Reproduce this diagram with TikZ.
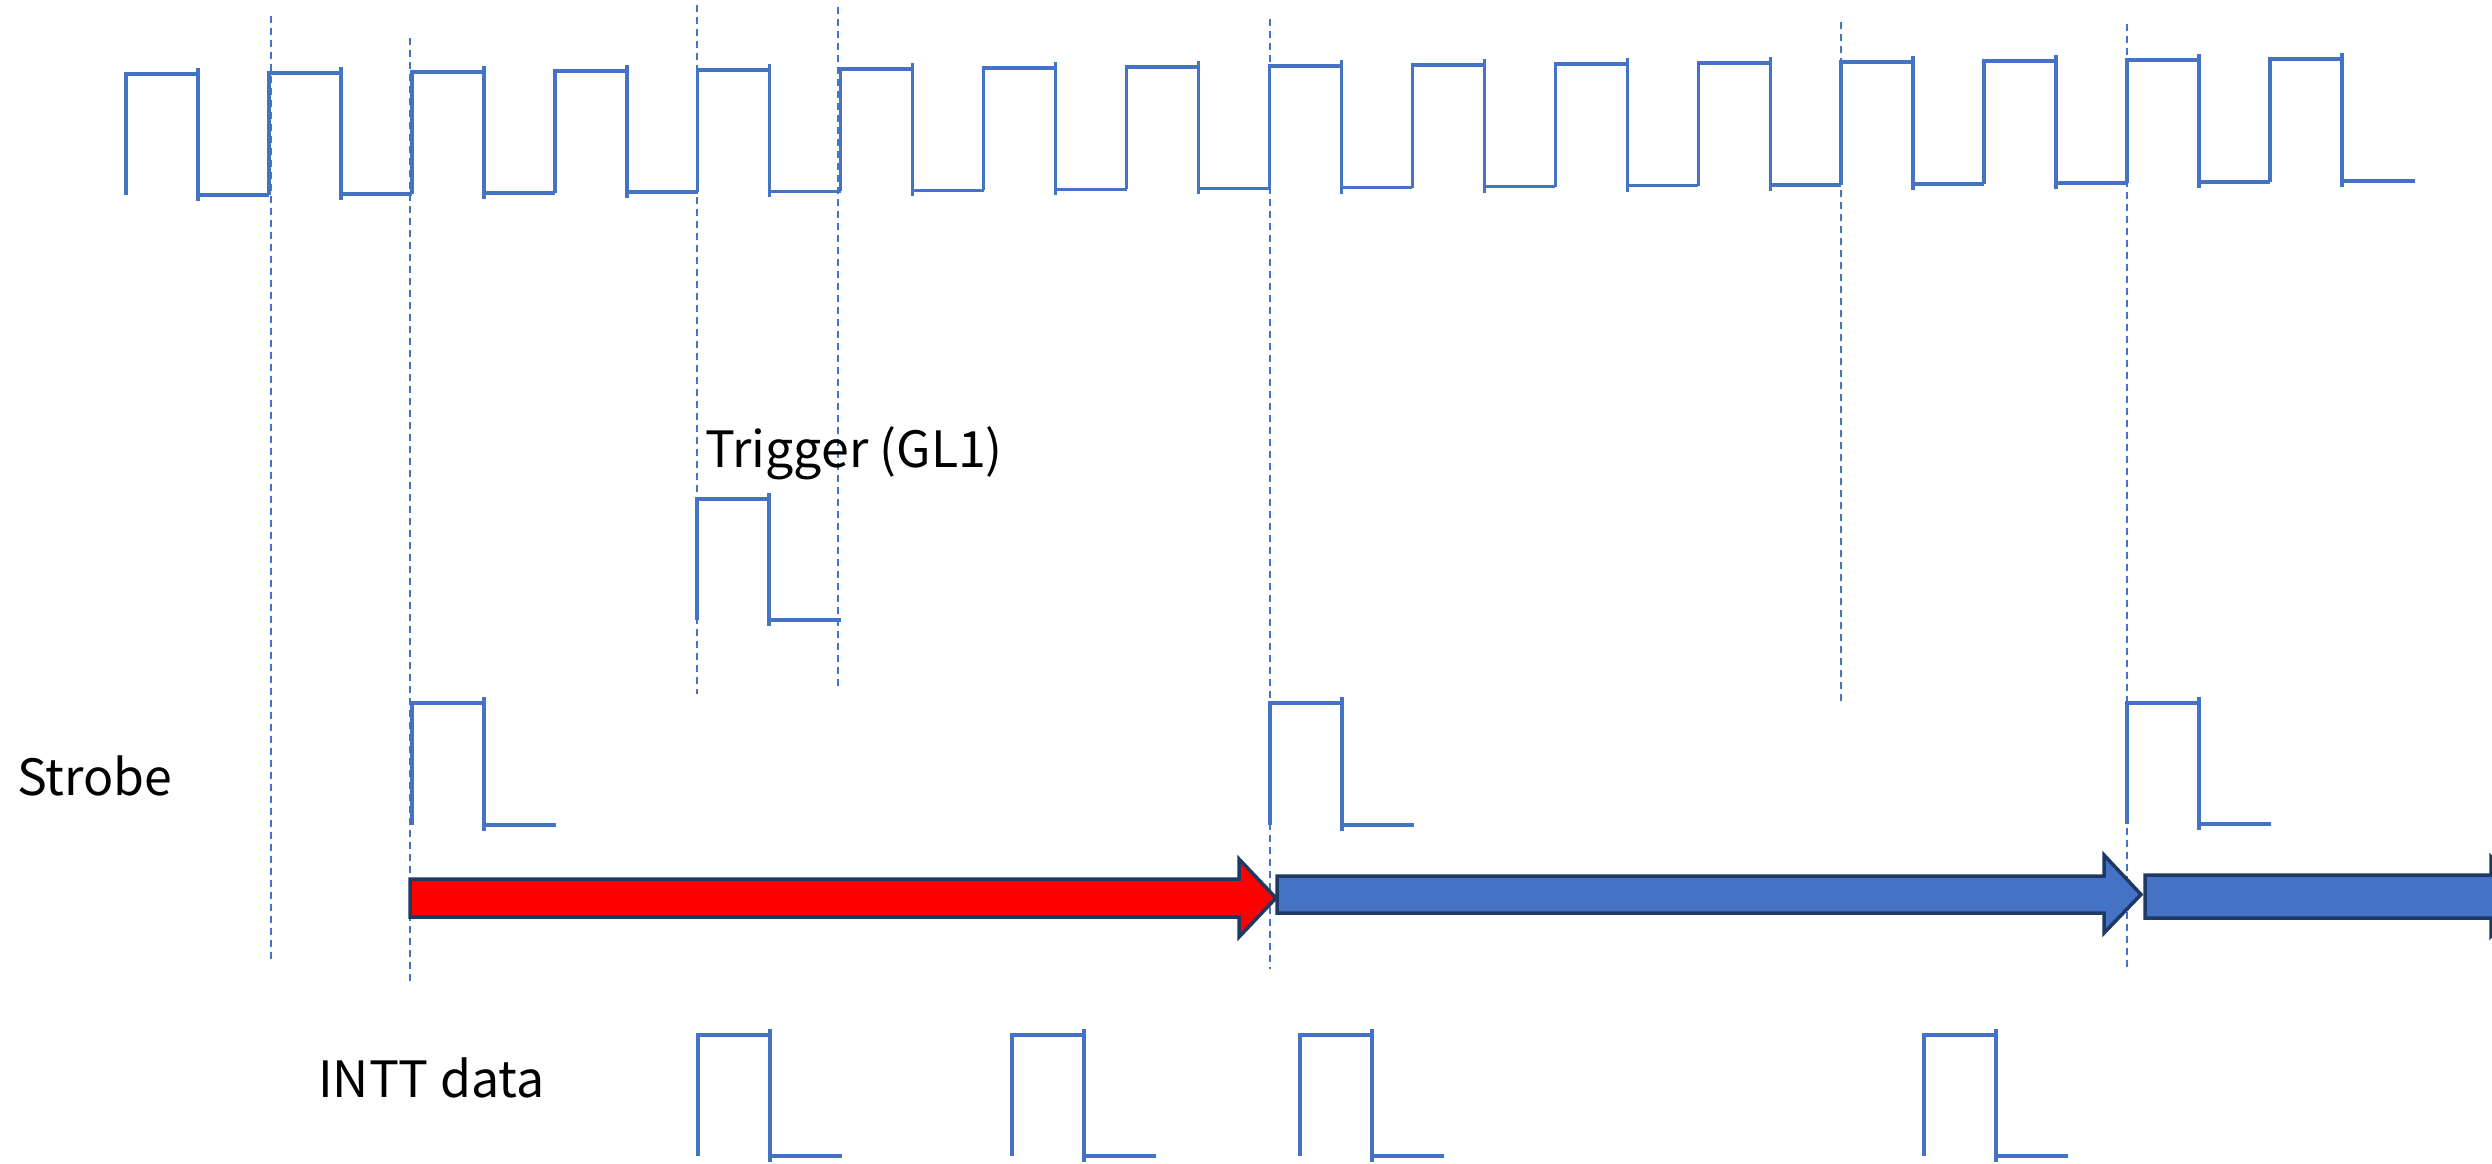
\documentclass[tikz,border=0pt]{standalone}
\usepackage{fontspec}
\setmainfont{Noto Sans CJK JP}
\definecolor{sigblue}{HTML}{4472C4}
\definecolor{navyline}{HTML}{1F3864}
\definecolor{barred}{HTML}{FF0000}
% one pulse: rising edge at #1, high level #2, low level #3
\newcommand\sigpulse[3]{%
  \draw[sig] (#1,#3) -- (#1,#2) -- ({#1+72},#2);
  \draw[sig] ({#1+72},{#2-6}) -- ({#1+72},{#3+6});
  \draw[sig] ({#1+72},#3) -- ({#1+144},#3);
}
\begin{document}
\begin{tikzpicture}[x=1pt,y=-1pt,
  sig/.style={draw=sigblue, line width=3.5pt},
  guide/.style={draw=sigblue, line width=1.6pt, dash pattern=on 7pt off 5pt},
  bar/.style={draw=navyline, line width=3.5pt, line join=miter},
  lbl/.style={anchor=base west, inner sep=0pt, font=\fontsize{50}{60}\selectfont}]
\useasboundingbox (0,0) rectangle (2492,1163);

% dashed timing guides
\foreach \x/\a/\b in {271/16/961, 410/38/985, 697/5/694, 838/7/686,
                      1270/19/969, 1841/22/701, 2127/24/972}
  \draw[guide] (\x,\a) -- (\x,\b);

% clock
\foreach \k in {0,...,15}{
  \pgfmathsetmacro\xr{126+142.93*\k}
  \pgfmathsetmacro\xf{\xr+72}
  \pgfmathsetmacro\xn{\k<15 ? \xr+142.93 : 2415}
  \pgfmathsetmacro\hi{74-\k}
  \pgfmathsetmacro\lo{195-0.93*\k}
  \pgfmathsetmacro\lp{\k>0 ? 195-0.93*(\k-1) : 195}
  \draw[sig] (\xr,\lp) -- (\xr,\hi) -- (\xf,\hi);
  \draw[sig] (\xf,\hi-6) -- (\xf,\lo+6);
  \draw[sig] (\xf,\lo) -- (\xn,\lo);
}

% trigger
\node[lbl] (trig) at (705,467) {Trigger (GL1)};
\sigpulse{697}{499}{620}

% strobe
\node[lbl] (strobe) at (17,795) {Strobe};
\sigpulse{412}{703}{825}
\sigpulse{1270}{703}{825}
\sigpulse{2127}{703}{824}

% readout windows
\filldraw[bar, fill=barred] (410,879) -- (1239,879) -- (1239,859) -- (1276,898)
  -- (1239,937) -- (1239,917) -- (410,917) -- cycle;
\filldraw[bar, fill=sigblue] (1277,876) -- (2104,876) -- (2104,855) -- (2141,894.5)
  -- (2104,933) -- (2104,913) -- (1277,913) -- cycle;
\begin{scope}
  \clip (0,0) rectangle (2492,1163);
  \filldraw[bar, fill=sigblue] (2145,875) -- (2491,875) -- (2491,857) -- (2528,896.5)
    -- (2491,936) -- (2491,918) -- (2145,918) -- cycle;
\end{scope}

% INTT data
\node[lbl] (intt) at (318,1097) {INTT data};
\sigpulse{698}{1035}{1156}
\sigpulse{1012}{1035}{1156}
\sigpulse{1300}{1035}{1156}
\sigpulse{1924}{1035}{1156}
\end{tikzpicture}
\end{document}
